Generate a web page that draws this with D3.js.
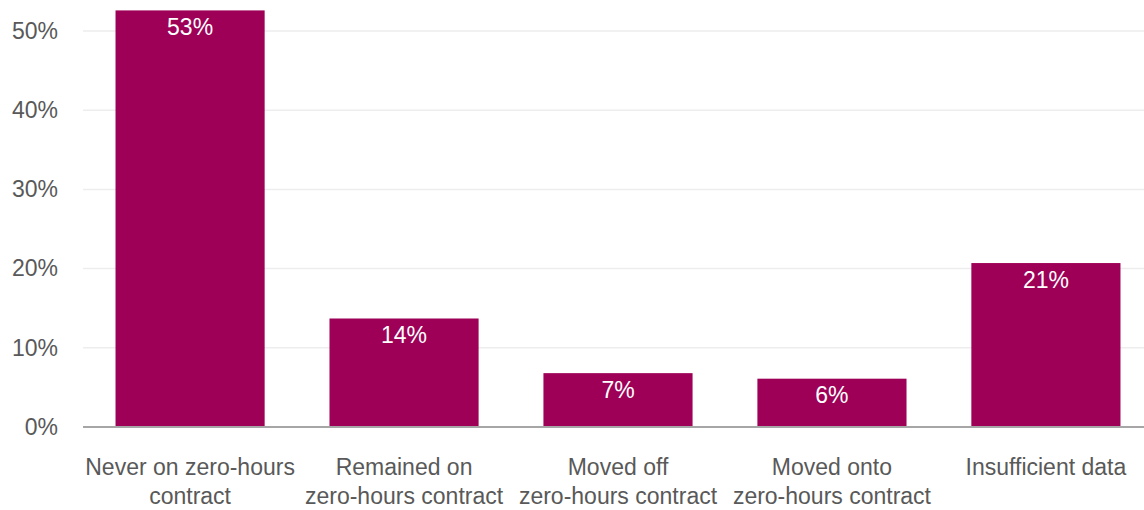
<!DOCTYPE html>
<html>
<head>
<meta charset="utf-8">
<script src="https://cdn.jsdelivr.net/npm/d3@7"></script>
<style>
  html, body { margin: 0; padding: 0; background: #fff; }
  svg { display: block; font-family: "Liberation Sans", Arial, sans-serif; }
</style>
</head>
<body>
<svg id="chart" width="1144" height="510"></svg>
<script>
// Share of workers by zero-hours contract status
const categories = [
  ["Never on zero-hours", "contract"],
  ["Remained on", "zero-hours contract"],
  ["Moved off", "zero-hours contract"],
  ["Moved onto", "zero-hours contract"],
  ["Insufficient data"]
];
const shares = [0.526, 0.137, 0.068, 0.061, 0.207];
const yTicks = [0, 0.1, 0.2, 0.3, 0.4, 0.5];
const yTickLabels = ["0%", "10%", "20%", "30%", "40%", "50%"];

const svg = d3.select("#chart");
const chartW = 1144;
const plotLeft = 83, plotBottom = 427, plotTop = 31;
const fontSize = 23;

const x = d3.scaleBand()
  .domain(d3.range(categories.length))
  .range([plotLeft, plotLeft + 5 * 214])
  .paddingInner(0.303)
  .paddingOuter(0.152);

const y = d3.scaleLinear()
  .domain([0, 0.5])
  .range([plotBottom, plotTop]);

// Gridlines
svg.append("g")
  .selectAll("line")
  .data(yTicks.filter(d => d > 0))
  .join("line")
  .attr("x1", plotLeft).attr("x2", chartW)
  .attr("y1", d => y(d)).attr("y2", d => y(d))
  .attr("stroke", "#ededed")
  .attr("stroke-width", 1.5);

// Y axis labels
const yAxis = d3.axisLeft(y)
  .tickValues(yTicks)
  .tickFormat((d, i) => yTickLabels[i])
  .tickSize(0)
  .tickPadding(0);
svg.append("g")
  .attr("transform", "translate(58,0)")
  .call(yAxis)
  .call(g => g.select(".domain").remove())
  .call(g => g.selectAll("text")
    .attr("fill", "#595959")
    .attr("font-size", fontSize)
    .attr("font-family", "'Liberation Sans', Arial, sans-serif"));

// Bars
svg.append("g")
  .selectAll("rect")
  .data(shares)
  .join("rect")
  .attr("x", (d, i) => x(i))
  .attr("width", x.bandwidth())
  .attr("y", d => y(d))
  .attr("height", d => plotBottom - y(d))
  .attr("fill", "#9e0058");

// Value labels
const pct = d3.format(".0%");
svg.append("g")
  .selectAll("text")
  .data(shares)
  .join("text")
  .attr("x", (d, i) => x(i) + x.bandwidth() / 2)
  .attr("y", d => y(d) + 24.5)
  .attr("text-anchor", "middle")
  .attr("fill", "#ffffff")
  .attr("font-size", fontSize)
  .text(d => pct(d));

// Baseline
svg.append("line")
  .attr("x1", plotLeft).attr("x2", chartW)
  .attr("y1", plotBottom).attr("y2", plotBottom)
  .attr("stroke", "#a6a6a6")
  .attr("stroke-width", 2);

// Category labels
const cat = svg.append("g")
  .selectAll("text")
  .data(categories)
  .join("text")
  .attr("x", (d, i) => x(i) + x.bandwidth() / 2)
  .attr("y", 475)
  .attr("text-anchor", "middle")
  .attr("fill", "#595959")
  .attr("font-size", fontSize);
cat.selectAll("tspan")
  .data(d => d)
  .join("tspan")
  .attr("x", function () { return d3.select(this.parentNode).attr("x"); })
  .attr("dy", (d, i) => i === 0 ? 0 : 29)
  .text(d => d);
</script>
</body>
</html>
